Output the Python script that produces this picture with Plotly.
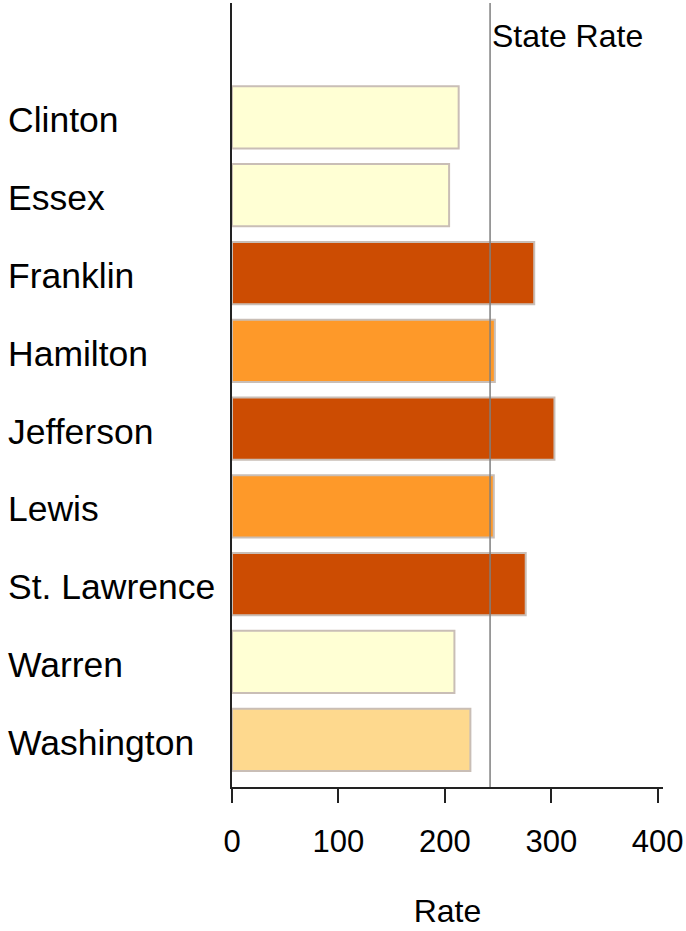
import plotly.graph_objects as go

counties = ["Clinton", "Essex", "Franklin", "Hamilton", "Jefferson",
            "Lewis", "St. Lawrence", "Warren", "Washington"]
rates = [213, 204, 284, 247, 303, 246, 276, 209, 224]
bar_colors = ["#ffffd4", "#ffffd4", "#cc4c02", "#fe9929", "#cc4c02",
              "#fe9929", "#cc4c02", "#ffffd4", "#fed98e"]
state_rate = 242.5
x_ticks = [0, 100, 200, 300, 400]

FONT = "Liberation Sans, Arial, sans-serif"
LABEL_FS = 35.5
TICK_FS = 31
TITLE_FS = 32

idx = list(range(len(counties)))

fig = go.Figure()
fig.add_trace(go.Bar(
    x=rates, y=idx, orientation="h",
    marker=dict(color=bar_colors, line=dict(color="#c9beb6", width=2)),
    width=0.8, hoverinfo="x+text", text=counties, textposition="none",
))

# state reference line spanning the full plot height
fig.add_shape(type="line", xref="x", yref="paper",
              x0=state_rate, x1=state_rate, y0=0, y1=1,
              line=dict(color="#7f7f7f", width=1.5))
fig.add_annotation(x=state_rate, xref="x", y=0.995, yref="paper",
                   text="State Rate", showarrow=False,
                   xanchor="left", yanchor="top", yshift=-9,
                   font=dict(family=FONT, size=TITLE_FS, color="black"))

# left-aligned county labels
plot_w = 686 - 232 - 23
for i, name in enumerate(counties):
    fig.add_annotation(x=(6 - 232) / plot_w, xref="paper", y=i, yref="y",
                       text=name, showarrow=False, xanchor="left",
                       yanchor="middle", yshift=-3,
                       font=dict(family=FONT, size=LABEL_FS, color="black"))

fig.update_layout(
    width=686, height=931,
    margin=dict(l=232, r=23, t=3, b=144),
    paper_bgcolor="white", plot_bgcolor="white",
    showlegend=False, bargap=0.2,
    font=dict(family=FONT, size=TICK_FS, color="black"),
)
fig.update_xaxes(
    range=[0, 405], tickvals=x_ticks, ticktext=[str(t) for t in x_ticks],
    showgrid=False, zeroline=False, showline=True,
    linecolor="#222222", linewidth=1.5,
    ticks="outside", ticklen=14, tickwidth=1.5, tickcolor="#222222",
    tickfont=dict(family=FONT, size=TICK_FS, color="black"),
    ticklabelstandoff=12, ticklabeloverflow="allow",
    title=dict(text="Rate", font=dict(family=FONT, size=TITLE_FS, color="black"),
               standoff=42),
)
fig.update_yaxes(
    range=[8.607, -1.471], showgrid=False, zeroline=False,
    showline=True, linecolor="#222222", linewidth=1.5,
    showticklabels=False, ticks="",
)

fig.write_html("out.html")
